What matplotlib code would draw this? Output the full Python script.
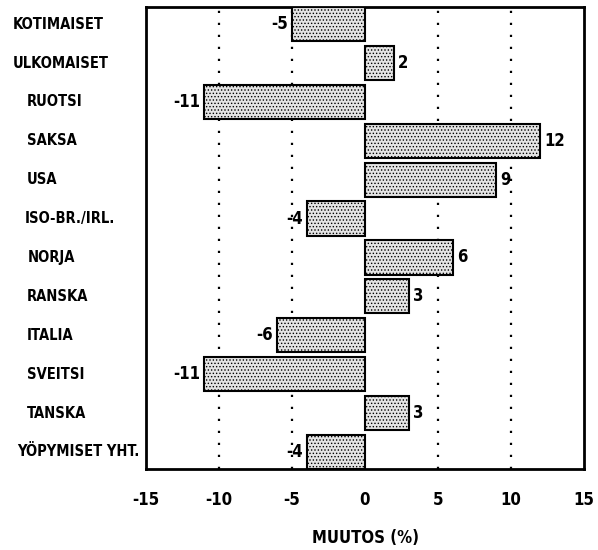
import matplotlib
matplotlib.use("Agg")
import matplotlib.pyplot as plt
from matplotlib.transforms import blended_transform_factory

categories = ["KOTIMAISET", "ULKOMAISET", "RUOTSI", "SAKSA", "USA", "ISO-BR./IRL.",
              "NORJA", "RANSKA", "ITALIA", "SVEITSI", "TANSKA", "YÖPYMISET YHT."]
values = [-5, 2, -11, 12, 9, -4, 6, 3, -6, -11, 3, -4]
label_indent_px = [13, 13, 27, 27, 27, 25, 28, 27, 27, 27, 27, 17]
xticks = [-15, -10, -5, 0, 5, 10, 15]

plt.rcParams['font.family'] = ['DejaVu Sans']
plt.rcParams['font.stretch'] = 'condensed'
plt.rcParams['hatch.color'] = '#555555'
plt.rcParams['hatch.linewidth'] = 0.6

W, H = 598, 550
fig = plt.figure(figsize=(W / 100, H / 100), dpi=100)
ax = fig.add_axes([146 / W, (H - 469) / H, (584 - 146) / W, (469 - 7) / H])

n = len(categories)
ypos = list(range(n))
ax.barh(ypos, values, height=0.88, color='#e4e4e4', edgecolor='black',
        linewidth=1.5, hatch='.....', zorder=3)

for x in [-10, -5, 5, 10]:
    ax.axvline(x, color='black', linestyle=(0, (1, 4.4)), linewidth=1.6, zorder=1)

ax.set_xlim(-15, 15)
ax.set_ylim(n - 0.56, -0.44)
ax.set_xticks(xticks)
ax.set_xticklabels([str(t) for t in xticks], fontsize=12, fontweight='bold')
ax.tick_params(axis='x', length=0, pad=16)
ax.set_yticks([])
for s in ax.spines.values():
    s.set_linewidth(2)

ax.set_xlabel("MUUTOS (%)", fontsize=12, fontweight='bold', labelpad=14)

for y, v in zip(ypos, values):
    if v < 0:
        ax.annotate(str(v), (v, y), xytext=(-3, 0), textcoords='offset points',
                    ha='right', va='center', fontsize=12, fontweight='bold', zorder=4)
    else:
        ax.annotate(str(v), (v, y), xytext=(3, 0), textcoords='offset points',
                    ha='left', va='center', fontsize=12, fontweight='bold', zorder=4)

trans = blended_transform_factory(fig.transFigure, ax.transData)
for y, lab, ind in zip(ypos, categories, label_indent_px):
    fig.text(ind / W, y, lab, transform=trans, ha='left', va='center',
             fontsize=10.5, fontweight='bold')

fig.savefig("out.png", dpi=100)
